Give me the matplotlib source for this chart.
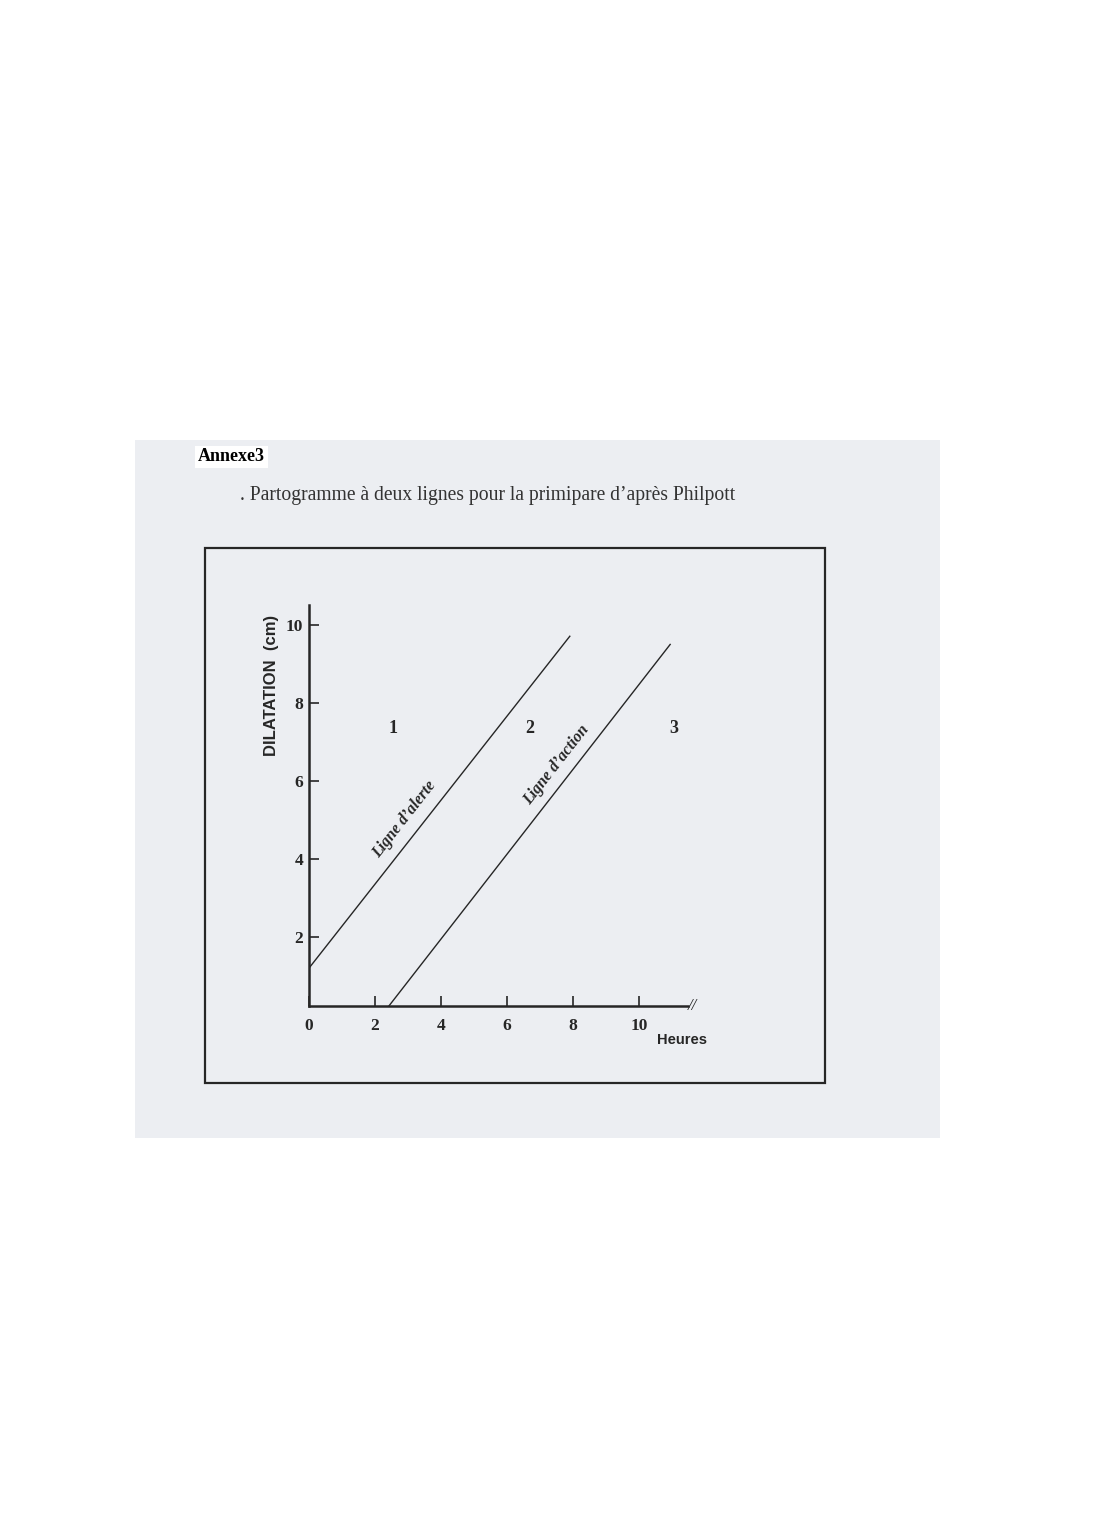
import matplotlib.pyplot as plt
from matplotlib.patches import Rectangle

# values
hours_ticks = [0, 2, 4, 6, 8, 10]
dilat_ticks = [2, 4, 6, 8, 10]
alert_x = [0, 7.9]
alert_y = [1.2, 9.7]
action_x = [2.42, 10.94]
action_y = [0.23, 9.49]
zones = ['1', '2', '3']
zone_x = [2.55, 6.7, 11.05]
zone_y = [7.33, 7.33, 7.33]

W, H = 1097, 1519
fig = plt.figure(figsize=(W / 100, H / 100), dpi=100)


def fx(px):
    return px / W


def fy(py):
    return 1 - py / H


ink = '#262626'
serif = 'Liberation Serif'
sans = 'Liberation Sans'

# scanned area and inner frame
fig.add_artist(Rectangle((fx(135), fy(1138)), (940 - 135) / W, (1138 - 440) / H,
                         transform=fig.transFigure, facecolor='#eceef2', edgecolor='none',
                         zorder=-5))
fig.add_artist(Rectangle((fx(205), fy(1083)), (825 - 205) / W, (1083 - 548) / H,
                         transform=fig.transFigure, facecolor='none', edgecolor=ink, lw=1.6,
                         zorder=-4))

fig.text(fx(198), fy(457), 'Annexe3', fontfamily=serif, fontweight='bold', fontsize=13,
         ha='left', va='center', color='black',
         bbox=dict(facecolor='white', edgecolor='none', pad=2))
fig.text(fx(240), fy(496), '. Partogramme à deux lignes pour la primipare d’après Philpott',
         fontfamily=serif, fontsize=14.1, ha='left', va='center', color='#333333')

ax = fig.add_axes([fx(309), fy(1006), (688 - 309) / W, (1006 - 605) / H])
ax.set_zorder(2)
ax.patch.set_alpha(0)
ax.set_xlim(0, 11.48)
ax.set_ylim(0.23, 10.5)

ax.plot(alert_x, alert_y, color=ink, lw=1.0)
ax.plot(action_x, action_y, color=ink, lw=1.0)

for s in ['top', 'right']:
    ax.spines[s].set_visible(False)
for s in ['left', 'bottom']:
    ax.spines[s].set_linewidth(1.8)
    ax.spines[s].set_color(ink)

ax.set_xticks(hours_ticks)
ax.set_yticks(dilat_ticks)
ax.tick_params(direction='in', length=7, width=1.2, color=ink, labelcolor=ink)
ax.tick_params(axis='x', pad=9)
ax.tick_params(axis='y', pad=4)
for lab in ax.get_xticklabels() + ax.get_yticklabels():
    lab.set_fontfamily(serif)
    lab.set_fontweight('bold')
    lab.set_fontsize(12.5)

ax.text(-0.098, 0.80, 'DILATATION  (cm)', transform=ax.transAxes, rotation=90,
        ha='center', va='center', fontfamily=sans, fontweight='bold', fontsize=12, color=ink)
ax.text(1.05, -0.085, 'Heures', transform=ax.transAxes, ha='right', va='center',
        fontfamily=sans, fontweight='bold', fontsize=10.5, color=ink)
ax.text(1.0, 0.0, '//', transform=ax.transAxes, ha='left', va='center',
        fontfamily=serif, fontstyle='italic', fontsize=12, color=ink, clip_on=False)

for z, x, y in zip(zones, zone_x, zone_y):
    ax.text(x, y, z, ha='center', va='center', fontfamily=serif, fontweight='bold',
            fontsize=13, color=ink)

ax.text(2.9, 5.0, 'Ligne d’alerte', rotation=52, ha='center', va='center',
        rotation_mode='anchor', fontfamily=serif, fontweight='bold', fontstyle='italic',
        fontsize=11.5, color=ink)
ax.text(7.5, 6.4, 'Ligne d’action', rotation=52, ha='center', va='center',
        rotation_mode='anchor', fontfamily=serif, fontweight='bold', fontstyle='italic',
        fontsize=11.5, color=ink)

fig.savefig('out.png', dpi=100, facecolor='white')
